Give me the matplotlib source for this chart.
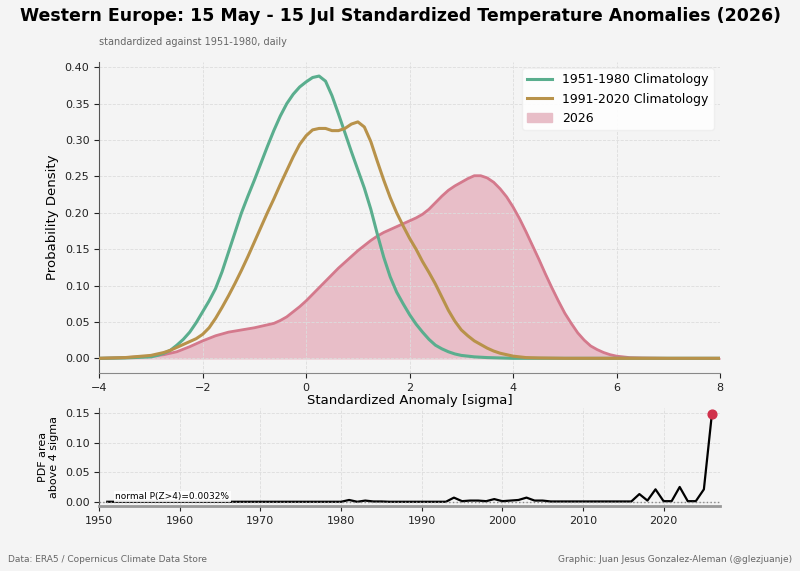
import matplotlib
matplotlib.use("Agg")
import matplotlib.pyplot as plt
import numpy as np

# ---- data ----
sigma_1951_1980 = [-4, -3.5, -3, -2.875, -2.75, -2.625, -2.5, -2.375, -2.25, -2.125, -2, -1.875, -1.75, -1.625,
                   -1.5, -1.375, -1.25, -1.125, -1, -0.875, -0.75, -0.625, -0.5, -0.375, -0.25, -0.125,
                   0, 0.125, 0.25, 0.375, 0.5, 0.625, 0.75, 0.875, 1, 1.125, 1.25, 1.375, 1.5, 1.625,
                   1.75, 1.875, 2, 2.125, 2.25, 2.375, 2.5, 2.625, 2.75, 2.875, 3, 3.25, 3.5, 4, 8]
clim_1951_1980 = [0, 0.0005, 0.002, 0.004, 0.007, 0.011, 0.018, 0.026, 0.036, 0.049, 0.064, 0.079, 0.096, 0.119,
                  0.146, 0.173, 0.200, 0.223, 0.245, 0.268, 0.291, 0.313, 0.333, 0.350, 0.363, 0.373,
                  0.380, 0.386, 0.388, 0.381, 0.361, 0.336, 0.310, 0.284, 0.259, 0.234, 0.205, 0.171, 0.139, 0.112,
                  0.091, 0.075, 0.060, 0.047, 0.036, 0.026, 0.018, 0.013, 0.009, 0.006, 0.004, 0.002, 0.001, 0, 0]

sigma_1991_2020 = [-4, -3.5, -3, -2.875, -2.75, -2.625, -2.5, -2.375, -2.25, -2.125, -2, -1.875, -1.75, -1.625,
                   -1.5, -1.375, -1.25, -1.125, -1, -0.875, -0.75, -0.625, -0.5, -0.375, -0.25, -0.125,
                   0, 0.125, 0.25, 0.375, 0.5, 0.625, 0.75, 0.875, 1, 1.125, 1.25, 1.375, 1.5, 1.625,
                   1.75, 1.875, 2, 2.125, 2.25, 2.375, 2.5, 2.625, 2.75, 2.875, 3, 3.125, 3.25, 3.375,
                   3.5, 3.625, 3.75, 3.875, 4, 4.25, 4.5, 5, 8]
clim_1991_2020 = [0, 0.001, 0.004, 0.006, 0.008, 0.011, 0.015, 0.019, 0.023, 0.027, 0.033, 0.042, 0.055, 0.070,
                  0.086, 0.103, 0.121, 0.140, 0.160, 0.180, 0.200, 0.219, 0.239, 0.258, 0.277, 0.294,
                  0.306, 0.314, 0.316, 0.316, 0.313, 0.313, 0.316, 0.322, 0.325, 0.318, 0.298, 0.271, 0.245, 0.221,
                  0.200, 0.182, 0.165, 0.150, 0.133, 0.118, 0.102, 0.084, 0.066, 0.051, 0.039, 0.031, 0.024, 0.019,
                  0.014, 0.010, 0.007, 0.005, 0.003, 0.001, 0.0005, 0, 0]

sigma_2026 = [-4, -3.5, -3, -2.75, -2.5, -2.25, -2, -1.75, -1.5, -1.25, -1, -0.75, -0.625, -0.5, -0.375,
              -0.25, -0.125, 0, 0.125, 0.25, 0.375, 0.5, 0.625, 0.75, 0.875, 1, 1.125, 1.25, 1.375, 1.5,
              1.625, 1.75, 1.875, 2, 2.125, 2.25, 2.375, 2.5, 2.625, 2.75, 2.875, 3, 3.125, 3.25, 3.375,
              3.5, 3.625, 3.75, 3.875, 4, 4.125, 4.25, 4.375, 4.5, 4.625, 4.75, 4.875, 5, 5.125, 5.25,
              5.375, 5.5, 5.625, 5.75, 5.875, 6, 6.25, 6.5, 7, 8]
pdf_2026 = [0, 0.001, 0.003, 0.005, 0.009, 0.016, 0.024, 0.031, 0.036, 0.039, 0.042, 0.046, 0.048, 0.052, 0.057,
            0.064, 0.071, 0.079, 0.088, 0.097, 0.106, 0.115, 0.124, 0.132, 0.140, 0.148, 0.155, 0.162, 0.168, 0.173,
            0.177, 0.181, 0.185, 0.189, 0.193, 0.198, 0.205, 0.214, 0.223, 0.231, 0.237, 0.242, 0.247, 0.251, 0.251,
            0.248, 0.242, 0.233, 0.222, 0.208, 0.192, 0.174, 0.155, 0.136, 0.116, 0.097, 0.079, 0.062, 0.048, 0.035,
            0.025, 0.017, 0.012, 0.008, 0.005, 0.003, 0.001, 0.0005, 0, 0]

years = list(range(1951, 2027))
area_above_4 = [0]*30  # 1951-1980
area_above_4 += [0.003, 0.0, 0.002, 0.0005, 0.0005, 0.0, 0.0, 0.0, 0.0, 0.0,   # 1981-1990
                 0.0, 0.0, 0.0, 0.007, 0.001, 0.002, 0.002, 0.001, 0.0045, 0.001,  # 1991-2000
                 0.002, 0.003, 0.007, 0.002, 0.002, 0.0005, 0.0005, 0.0005, 0.0005, 0.0005,  # 2001-2010
                 0.0005, 0.0005, 0.0005, 0.0005, 0.0005, 0.0005, 0.013, 0.002, 0.021, 0.001,  # 2011-2020
                 0.001, 0.025, 0.001, 0.001, 0.021, 0.149]  # 2021-2026

normal_p = 0.000032

# ---- style ----
bg = "#f4f4f4"
c_green = "#5aae8e"
c_gold = "#b8924a"
c_pink = "#d4798c"
c_fill = "#e8bec8"

fig = plt.figure(figsize=(8, 5.71), dpi=100, facecolor=bg)
ax = fig.add_axes([0.124, 0.347, 0.776, 0.544], facecolor=bg)
ax2 = fig.add_axes([0.124, 0.114, 0.776, 0.171], facecolor=bg)

ax.fill_between(sigma_2026, pdf_2026, color=c_fill, label="2026", zorder=1)
ax.plot(sigma_2026, pdf_2026, color=c_pink, lw=2, zorder=2)
ax.plot(sigma_1951_1980, clim_1951_1980, color=c_green, lw=2.2, label="1951-1980 Climatology", zorder=3)
ax.plot(sigma_1991_2020, clim_1991_2020, color=c_gold, lw=2.2, label="1991-2020 Climatology", zorder=3)

ax.set_xlim(-4, 8)
ax.set_ylim(-0.02, 0.407)
ax.set_xticks([-4, -2, 0, 2, 4, 6, 8])
ax.set_yticks(np.arange(0, 0.41, 0.05))
ax.set_xlabel("Standardized Anomaly [sigma]", fontsize=9.5, labelpad=1)
ax.set_ylabel("Probability Density", fontsize=9.5)
ax.grid(True, ls="--", lw=0.6, color="#dddddd")
handles, labels = ax.get_legend_handles_labels()
order = [1, 2, 0]
leg = ax.legend([handles[i] for i in order], [labels[i] for i in order], loc="upper right",
                fontsize=9, frameon=True, facecolor="white", edgecolor="#eeeeee", framealpha=0.9)

for a in (ax, ax2):
    for s in ("top", "right"):
        a.spines[s].set_visible(False)
    for s in ("left", "bottom"):
        a.spines[s].set_color("#555555")
    a.tick_params(labelsize=8, colors="#222222")
ax.spines["bottom"].set_color("#888888")
ax2.spines["bottom"].set_color("#999999")
ax2.spines["bottom"].set_linewidth(2)

ax2.plot(years, area_above_4, color="black", lw=1.6, zorder=2)
ax2.scatter([years[-1]], [area_above_4[-1]], color="#d0304a", s=40, zorder=4)
ax2.axhline(normal_p, color="#888888", ls=":", lw=1, zorder=3)
ax2.text(1952, 0.0015, "normal P(Z>4)=0.0032%", fontsize=6.5, va="bottom", ha="left",
         bbox=dict(boxstyle="square,pad=0.15", facecolor="white", edgecolor="none", alpha=0.85), zorder=5)
ax2.set_xlim(1950, 2027)
ax2.set_ylim(-0.007, 0.158)
ax2.set_xticks([1950, 1960, 1970, 1980, 1990, 2000, 2010, 2020])
ax2.set_yticks([0, 0.05, 0.10, 0.15])
ax2.set_ylabel("PDF area\nabove 4 sigma", fontsize=8)
ax2.grid(True, ls="--", lw=0.6, color="#dddddd")

fig.text(0.5, 0.972, "Western Europe: 15 May - 15 Jul Standardized Temperature Anomalies (2026)",
         ha="center", va="center", fontsize=12.5, fontweight="bold")
fig.text(0.124, 0.926, "standardized against 1951-1980, daily", ha="left", va="center",
         fontsize=7, color="#666666")
fig.text(0.01, 0.021, "Data: ERA5 / Copernicus Climate Data Store", ha="left", va="center",
         fontsize=6.5, color="#666666")
fig.text(0.99, 0.021, "Graphic: Juan Jesus Gonzalez-Aleman (@glezjuanje)", ha="right", va="center",
         fontsize=6.5, color="#666666")

fig.savefig("out.png", dpi=100, facecolor=bg)
